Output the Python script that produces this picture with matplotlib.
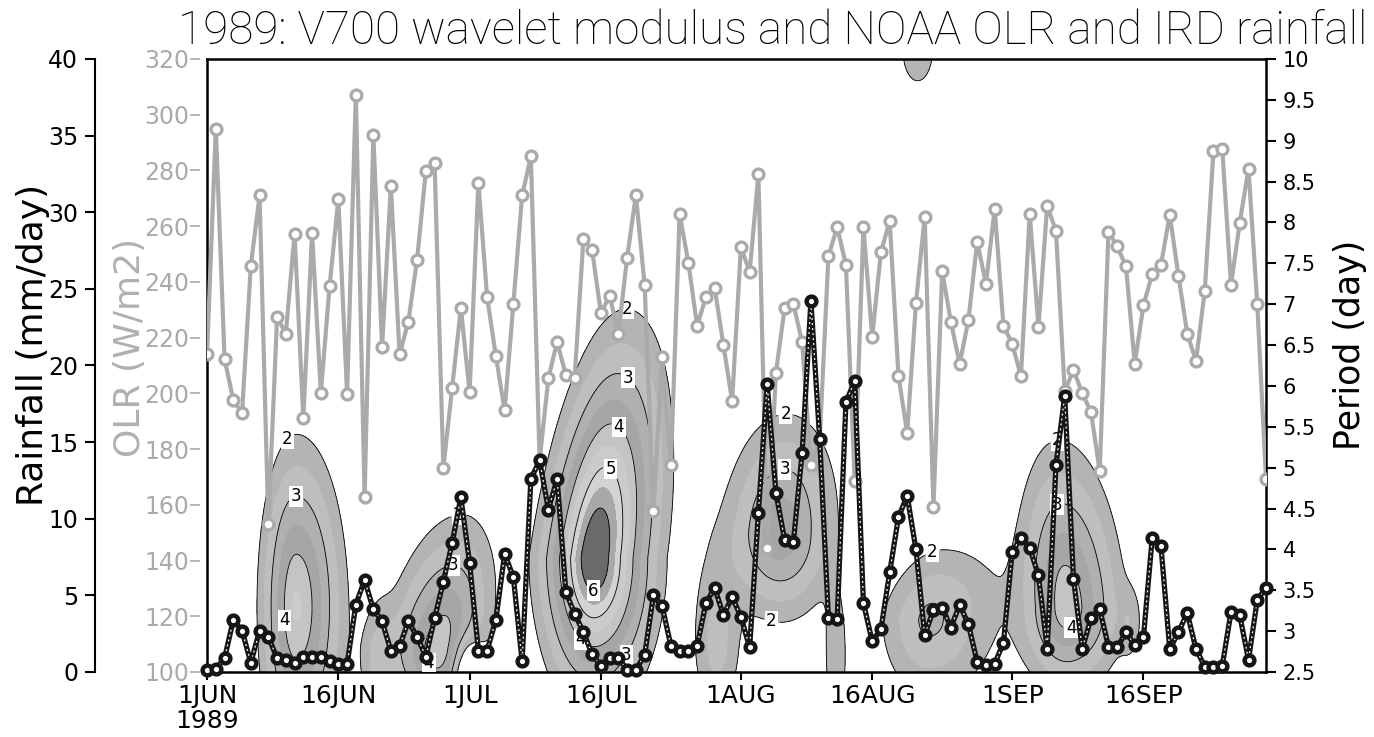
"""
1989: V700 wavelet modulus with NOAA OLR and IRD rainfall.
Three y-axes sharing one daily time axis (1 Jun - 30 Sep 1989).
"""

import numpy as np
import matplotlib
matplotlib.use('Agg')
import matplotlib.pyplot as plt
import matplotlib.dates as mdates

# Daily series, 1 Jun 1989 .. 30 Sep 1989
dates = np.arange('1989-06-01', '1989-10-01', dtype='datetime64[D]')

olr = [214.0, 295.0, 212.3, 197.6, 192.9, 245.8, 271.0, 153.1, 227.4, 221.4,
       257.3, 191.0, 257.6, 200.1, 238.5, 269.8, 199.6, 307.2, 162.7, 292.8,
       216.6, 274.4, 214.0, 225.7, 248.0, 279.9, 282.7, 173.2, 201.9, 230.6,
       200.4, 275.6, 234.6, 213.4, 193.9, 232.1, 271.0, 285.0, 176.0, 205.4,
       218.5, 206.5, 205.4, 255.4, 251.4, 228.8, 235.0, 221.4, 248.7, 271.2,
       238.9, 157.7, 213.0, 174.2, 264.3, 246.8, 224.2, 234.6, 237.9, 217.3,
       197.2, 252.6, 243.5, 278.7, 144.4, 207.3, 230.7, 232.1, 218.3, 174.2,
       183.0, 249.2, 259.7, 246.1, 168.4, 259.7, 220.2, 250.7, 261.9, 206.3,
       185.7, 232.4, 263.3, 159.1, 243.9, 225.5, 210.6, 226.4, 254.4, 239.3,
       266.2, 224.2, 217.8, 206.1, 264.5, 223.8, 267.4, 258.3, 200.8, 208.4,
       200.1, 193.3, 172.0, 258.0, 252.8, 245.6, 210.6, 231.7, 242.8, 246.1,
       264.1, 242.1, 221.4, 211.6, 236.7, 287.1, 287.8, 238.9, 261.2, 280.6,
       232.1, 169.2]

rain = [0.1, 0.2, 0.9, 3.4, 2.7, 0.6, 2.7, 2.3, 0.9, 0.8,
        0.6, 1.0, 1.0, 1.0, 0.7, 0.5, 0.5, 4.4, 6.0, 4.1,
        3.3, 1.4, 1.7, 3.3, 2.3, 1.0, 3.5, 5.9, 8.4, 11.4,
        7.1, 1.4, 1.4, 3.4, 7.7, 6.2, 0.7, 12.6, 13.8, 10.6,
        12.6, 5.2, 3.8, 2.6, 1.15, 0.4, 0.9, 0.9, 0.15, 0.15,
        1.1, 5.0, 4.3, 1.7, 1.4, 1.4, 1.7, 4.5, 5.5, 3.7,
        4.9, 3.6, 1.6, 10.4, 18.8, 11.7, 8.6, 8.5, 14.3, 24.2,
        15.2, 3.5, 3.45, 17.6, 19.0, 4.5, 2.0, 2.8, 6.5, 10.1,
        11.5, 8.0, 2.4, 4.05, 4.2, 2.9, 4.4, 3.1, 0.65, 0.45,
        0.55, 1.9, 7.85, 8.75, 8.1, 6.3, 1.5, 13.5, 18.0, 6.1,
        1.5, 3.5, 4.1, 1.65, 1.6, 2.6, 1.75, 2.3, 8.75, 8.2,
        1.5, 2.6, 3.85, 1.5, 0.35, 0.35, 0.4, 3.9, 3.7, 0.8,
        4.7, 5.5]

# Wavelet modulus: blobs
# (day offset from 1 Jun, period in days, peak, half-scales left/right/down/up, tilt, shape)
blob_day = [10.2, 26.5, 19.8, 30.0, 44.2, 65.5, 58.3, 71.8, 82.5, 98.3, 105.5, 81.2]
blob_per = [3.3, 2.8, 2.6, 2.4, 3.9, 4.2, 2.8, 2.6, 3.15, 3.3, 3.1, 10.1]
blob_amp = [4.6, 4.4, 2.5, -3.0, 7.0, 3.9, 2.6, 2.4, 3.15, 4.4, 2.1, 2.5]
blob_sl = [3.2, 5.0, 2.2, 1.2, 3.6, 5.5, 3.2, 1.5, 5.6, 4.2, 1.5, 2.5]
blob_sr = [4.2, 4.3, 2.0, 1.2, 4.1, 5.4, 3.0, 1.6, 7.7, 5.0, 1.5, 2.5]
blob_sdn = [1.5, 0.8, 0.7, 0.3, 1.0, 0.9, 1.0, 0.8, 1.0, 0.8, 0.5, 0.55]
blob_sup = [1.5, 1.2, 0.8, 0.3, 1.5, 1.2, 1.3, 1.0, 0.9, 1.5, 0.5, 0.55]
blob_tilt = [0.0, 1.6, 0.0, 0.0, 1.2, 0.5, 0.0, 0.0, 2.0, -0.5, 0.0, 0.0]
blob_q = [1.5, 1.5, 2.0, 2.0, 1.3, 1.5, 2.0, 2.0, 1.5, 1.5, 2.0, 2.0]

fill_levels = [2, 2.5, 3, 3.5, 4, 4.5, 5, 5.5, 6, 8]
fill_colors = ['#b4b4b4', '#bebebe', '#b0b0b0', '#a6a6a6', '#c4c4c4',
               '#cbcbcb', '#d3d3d3', '#a8a8a8', '#6a6a6a']
line_levels = [2, 3, 4, 5, 6]

# where the contour labels sit (day offset, period)
label_pos = [(8.9, 5.38), (10.1, 4.69), (10.1, 3.14),
             (28.9, 4.26), (28.1, 3.81), (25.1, 2.59),
             (48.1, 7.2), (48.1, 6.1), (47.0, 5.49), (46.1, 4.98), (44.1, 3.42),
             (42.9, 2.92), (46.9, 2.77),
             (66.1, 5.67), (66.1, 5.06), (64.1, 2.89),
             (82.9, 3.96),
             (97.1, 5.38), (97.1, 4.55), (99.0, 2.98)]

xtick_dates = np.array(['1989-06-01', '1989-06-16', '1989-07-01', '1989-07-16',
                        '1989-08-01', '1989-08-16', '1989-09-01', '1989-09-16'],
                       dtype='datetime64[D]')
xtick_labels = ['1JUN\n1989', '16JUN', '1JUL', '16JUL', '1AUG', '16AUG', '1SEP', '16SEP']


def wavelet_field(d, p, k=3.0):
    # blobs are merged with a k-norm so neighbouring ones join without tails piling up
    acc = np.zeros_like(d)
    dips = np.zeros_like(d)
    for d0, p0, a, sl, sr, sdn, sup, tl, q in zip(blob_day, blob_per, blob_amp, blob_sl,
                                                  blob_sr, blob_sdn, blob_sup, blob_tilt, blob_q):
        dx = d - (d0 + tl * np.clip(p - p0, 0, None))
        dp = p - p0
        r = np.hypot(dx / np.where(dx < 0, sl, sr), dp / np.where(dp < 0, sdn, sup))
        b = a * np.exp(-0.5 * r**q)
        if a > 0:
            acc += b**k
        else:
            dips += b
    return acc**(1.0 / k) + dips


t0 = mdates.date2num(dates[0])
dd, pp = np.meshgrid(np.linspace(0, 121, 500), np.linspace(2.5, 10, 400))
zz = wavelet_field(dd, pp)

GRAY = '#a9aaac'
BLACK = '#161616'

fig = plt.figure(figsize=(13.74, 7.37), dpi=100)
ax = fig.add_axes([0.1507, 0.0882, 0.7707, 0.8318])   # period / wavelet
ax_o = ax.twinx()                                       # OLR
ax_r = ax.twinx()                                       # rainfall
ax.set_zorder(1)
ax_o.set_zorder(2)
ax_r.set_zorder(3)

# wavelet modulus
ax.contourf(dd + t0, pp, zz, levels=fill_levels, colors=fill_colors)
cs = ax.contour(dd + t0, pp, zz, levels=line_levels, colors='black', linewidths=0.6)
lbls = ax.clabel(cs, fontsize=12, fmt='%d', inline=True, inline_spacing=3,
                 manual=[(t0 + a, b) for a, b in label_pos])
for t in lbls:
    t.set_rotation(0)
    t.set_bbox(dict(boxstyle='square,pad=0.08', fc='white', ec='none'))

ax.set_xlim(mdates.date2num(dates[0]), mdates.date2num(dates[-1]))
ax.set_ylim(2.5, 10)
ax.yaxis.tick_right()
ax.set_yticks(np.arange(2.5, 10.01, 0.5))
ax.set_yticklabels(['%g' % v for v in np.arange(2.5, 10.01, 0.5)])
ax.tick_params(axis='y', direction='out', length=7, width=1.5, labelsize=15, pad=5)
ax.set_xticks(mdates.date2num(xtick_dates))
ax.set_xticklabels(xtick_labels)
ax.tick_params(axis='x', direction='out', length=6, width=1.5, labelsize=18, pad=3)
for t in ax.get_xticklabels():
    t.set_linespacing(1.05)
for s in ax.spines.values():
    s.set_linewidth(1.8)

# OLR
ax_o.plot(dates, olr, '-o', color=GRAY, lw=3.0, ms=7.8, mfc='white', mec=GRAY, mew=2.4)
ax_o.set_ylim(100, 320)
ax_o.set_yticks(np.arange(100, 321, 20))
ax_o.yaxis.tick_left()
for s in ax_o.spines.values():
    s.set_visible(False)
ax_o.spines['left'].set_position(('outward', 5))
ax_o.tick_params(axis='y', direction='out', length=7, width=1.2, color=GRAY,
                 labelcolor=GRAY, labelsize=17, pad=1)

# rainfall
ax_r.plot(dates, rain, '-', color=BLACK, lw=3.8, clip_on=False)
ax_r.plot(dates, rain, color='white', lw=0.9, ls=(0, (1.5, 2.5)), clip_on=False)
ax_r.plot(dates, rain, 'o', ms=7.0, mfc='white', mec=BLACK, mew=3.2, clip_on=False)
ax_r.set_ylim(0, 40)
ax_r.set_yticks(np.arange(0, 41, 5))
ax_r.yaxis.tick_left()
for k in ['right', 'top', 'bottom']:
    ax_r.spines[k].set_visible(False)
ax_r.spines['left'].set_position(('axes', -0.1058))
ax_r.spines['left'].set_linewidth(1.5)
ax_r.tick_params(axis='y', direction='out', length=7, width=1.5, labelsize=17, pad=5)

fig.text(0.024, 0.532, 'Rainfall (mm/day)', rotation=90, ha='center', va='center', fontsize=26)
fig.text(0.0946, 0.528, 'OLR (W/m2)', rotation=90, ha='center', va='center',
         fontsize=26, color='#b0b0b0')
fig.text(0.9825, 0.532, 'Period (day)', rotation=90, ha='center', va='center', fontsize=25)
fig.text(0.562, 0.958, '1989: V700 wavelet modulus and NOAA OLR and IRD rainfall',
         ha='center', va='center', fontsize=33, family='Roboto', weight='light')

fig.savefig('out.png', dpi=100)
